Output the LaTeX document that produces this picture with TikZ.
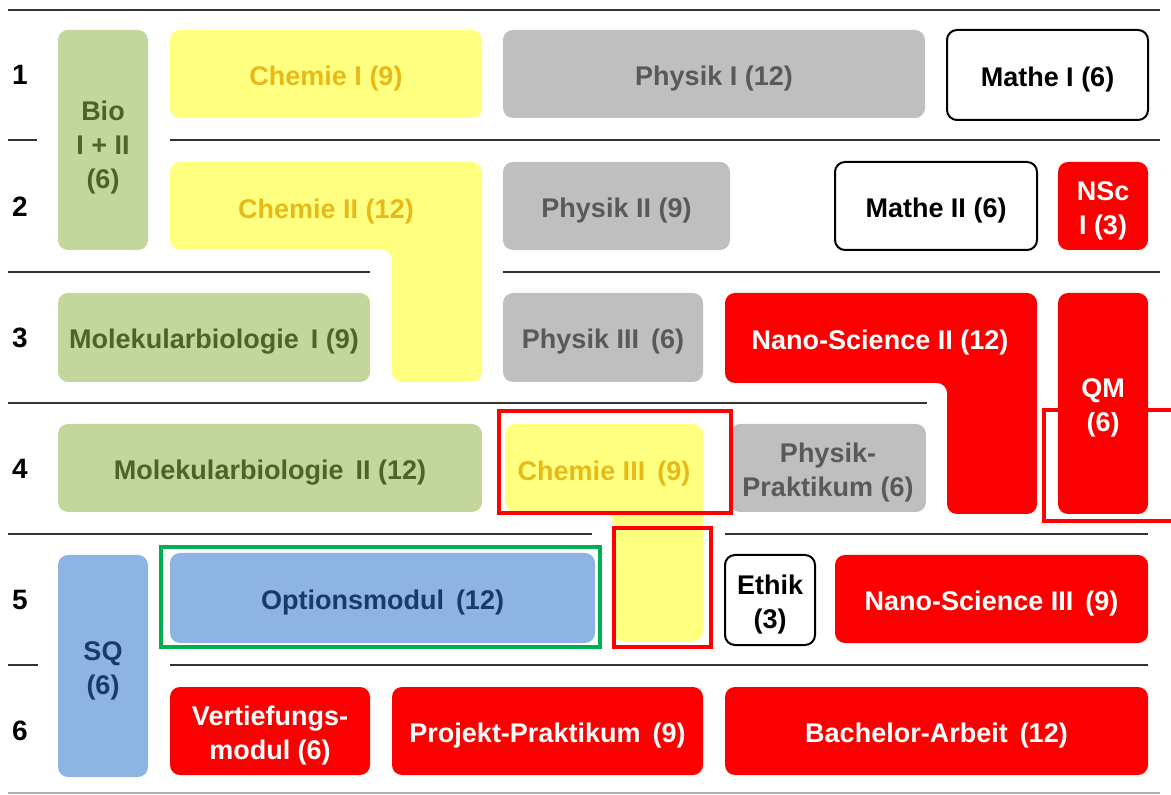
\documentclass[tikz,border=0pt]{standalone}
\usepackage{fontspec}
\setmainfont{Liberation Sans}
\usetikzlibrary{fit,backgrounds}

\definecolor{biofill}{RGB}{195,214,155}
\definecolor{biotext}{RGB}{79,98,40}
\definecolor{chemfill}{RGB}{255,255,128}
\definecolor{chemtext}{RGB}{232,186,24}
\definecolor{physfill}{RGB}{191,191,191}
\definecolor{phystext}{RGB}{89,89,89}
\definecolor{nanofill}{RGB}{250,0,0}
\definecolor{sqfill}{RGB}{141,180,226}
\definecolor{sqtext}{RGB}{28,58,105}
\definecolor{markgreen}{RGB}{0,176,80}

\begin{document}
\begin{tikzpicture}[x=0.5pt,y=-0.5pt,
        font=\fontsize{13.5}{17}\selectfont\bfseries,
        modul/.style={inner sep=0pt, rounded corners=5pt},
        lbl/.style={align=center, inner sep=0pt, yshift=-2.2pt},
        bio/.style={modul, fill=biofill},
        chem/.style={modul, fill=chemfill},
        phys/.style={modul, fill=physfill},
        mathe/.style={modul, fill=white, draw=black, line width=1pt},
        nano/.style={modul, fill=nanofill},
        sq/.style={modul, fill=sqfill},
        semester/.style={text=black, font=\fontsize{14}{17}\selectfont\bfseries},
        sep/.style={line width=1pt, black!80},
        markred/.style={draw=red, line width=2pt, inner sep=0pt},
        markgrn/.style={draw=markgreen, line width=2pt, inner sep=0pt}
    ]
    \useasboundingbox (0,0) rectangle (1171,795);

    % semester lines
    \draw[sep] (8,10) -- (1160,10);
    \draw[sep] (8,140) -- (37,140);
    \draw[sep] (170,140) -- (1160,140);
    \draw[sep] (8,272) -- (370,272);
    \draw[sep] (503,272) -- (1160,272);
    \draw[sep] (8,403) -- (927,403);
    \draw[sep] (8,534) -- (592,534);
    \draw[sep] (725,534) -- (1148,534);
    \draw[sep] (8,665) -- (38,665);
    \draw[sep] (170,665) -- (1148,665);
    \draw[line width=1pt, black!30] (8,793) -- (1160,793);

    % semester numbers
    \node[semester] (s1) at (20,75) {1};
    \node[semester] (s2) at (20,207) {2};
    \node[semester] (s3) at (20,338) {3};
    \node[semester] (s4) at (20,469) {4};
    \node[semester] (s5) at (20,600) {5};
    \node[semester] (s6) at (20,731) {6};

    % biology
    \node[bio, fit={(58,30) (148,250)}] (bio) {};
    \node[lbl, text=biotext] (bio-t) at (103,143) {Bio\\I + II\\(6)};
    \node[bio, fit={(58,293) (370,382)}] (molbioI) {};
    \node[lbl, text=biotext] (molbioI-t) at (molbioI) {Molekularbiologie\, I (9)};
    \node[bio, fit={(58,424) (482,512)}] (molbioII) {};
    \node[lbl, text=biotext] (molbioII-t) at (molbioII) {Molekularbiologie\, II (12)};

    % chemistry
    \node[chem, fit={(170,30) (482,118)}] (chemI) {};
    \node[lbl, text=chemtext] (chemI-t) at (chemI) {Chemie I (9)};
    \fill[chemfill, rounded corners=5pt]
        (170,162) -- (482,162) -- (482,382) -- (392,382) -- (392,250) -- (170,250) -- cycle;
    \node[lbl, text=chemtext] (chemII-t) at (326,207) {Chemie II (12)};
    \fill[chemfill, rounded corners=5pt]
        (505,424) -- (703,424) -- (703,641) -- (613,641) -- (613,512) -- (505,512) -- cycle;
    \node[lbl, text=chemtext] (chemIII-t) at (604,469) {Chemie III\, (9)};

    % physics
    \node[phys, fit={(503,30) (925,118)}] (physI) {};
    \node[lbl, text=phystext] (physI-t) at (physI) {Physik I (12)};
    \node[phys, fit={(503,162) (730,250)}] (physII) {};
    \node[lbl, text=phystext] (physII-t) at (physII) {Physik II (9)};
    \node[phys, fit={(503,293) (703,382)}] (physIII) {};
    \node[lbl, text=phystext] (physIII-t) at (physIII) {Physik III\, (6)};
    \node[phys, fit={(730,424) (926,512)}] (physprak) {};
    \node[lbl, text=phystext] (physprak-t) at (physprak) {Physik-\\Praktikum (6)};

    % mathematics and ethics
    \node[mathe, fit={(947,30) (1148,120)}] (matheI) {};
    \node[lbl] (matheI-t) at (matheI) {Mathe I (6)};
    \node[mathe, fit={(835,162) (1037,250)}] (matheII) {};
    \node[lbl] (matheII-t) at (matheII) {Mathe II (6)};
    \node[mathe, fit={(725,555) (815,645)}] (ethik) {};
    \node[lbl] (ethik-t) at (ethik) {Ethik\\(3)};

    % nano-science
    \node[nano, fit={(1058,162) (1148,250)}] (nscI) {};
    \node[lbl, text=white] (nscI-t) at (nscI) {NSc\\I (3)};
    \fill[nanofill, rounded corners=5pt]
        (725,293) -- (1037,293) -- (1037,514) -- (947,514) -- (947,383) -- (725,383) -- cycle;
    \node[lbl, text=white] (nscII-t) at (880,338) {Nano-Science II (12)};
    \node[nano, fit={(1058,293) (1148,514)}] (qm) {};
    \node[lbl, text=white] (qm-t) at (qm) {QM\\(6)};
    \node[nano, fit={(835,555) (1148,643)}] (nscIII) {};
    \node[lbl, text=white] (nscIII-t) at (nscIII) {Nano-Science III\, (9)};
    \node[nano, fit={(170,687) (370,775)}] (vertiefung) {};
    \node[lbl, text=white] (vertiefung-t) at (vertiefung) {Vertiefungs-\\modul (6)};
    \node[nano, fit={(392,687) (703,775)}] (projekt) {};
    \node[lbl, text=white] (projekt-t) at (projekt) {Projekt-Praktikum\, (9)};
    \node[nano, fit={(725,687) (1148,775)}] (bachelor) {};
    \node[lbl, text=white] (bachelor-t) at (bachelor) {Bachelor-Arbeit\, (12)};

    % key skills and options
    \node[sq, fit={(58,555) (148,777)}] (sq) {};
    \node[lbl, text=sqtext] (sq-t) at (sq) {SQ\\(6)};
    \node[sq, fit={(170,553) (595,643)}] (option) {};
    \node[lbl, text=sqtext] (option-t) at (option) {Optionsmodul\, (12)};

    % highlights
    \node[markred, fit={(499,411) (731,513)}] (markchem) {};
    \node[markred, fit={(614,528) (711,647)}] (markchemlow) {};
    \node[markred, fit={(1044,410) (1185,521)}] (markqm) {};
    \node[markgrn, fit={(161,547) (600,647)}] (markoption) {};
\end{tikzpicture}
\end{document}
